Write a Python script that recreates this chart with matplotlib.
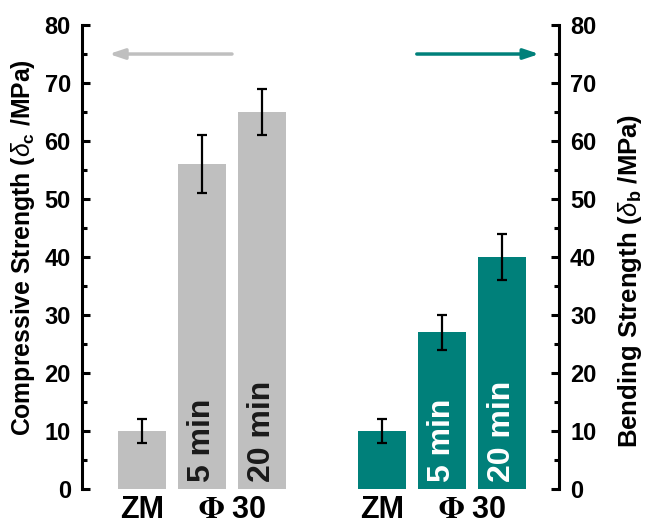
import matplotlib
matplotlib.use("Agg")
import matplotlib.pyplot as plt
from matplotlib.ticker import MultipleLocator

plt.rcParams['font.family'] = ['Liberation Sans', 'DejaVu Sans']
plt.rcParams['font.weight'] = 'bold'
plt.rcParams['mathtext.fontset'] = 'custom'
plt.rcParams['mathtext.rm'] = 'Liberation Sans'
plt.rcParams['mathtext.it'] = 'Liberation Sans:italic:normal'
plt.rcParams['mathtext.bf'] = 'Liberation Sans:bold'

# compressive strength (left axis)
comp_pos = [1, 2, 3]
comp_val = [10, 56, 65]
comp_err = [2, 5, 4]

# bending strength (right axis)
bend_pos = [5, 6, 7]
bend_val = [10, 27, 40]
bend_err = [2, 3, 4]

bar_text = ['', '5 min', '20 min']
group_labels = ['ZM', r'$\Phi$ 30']

grey = '#bfbfbf'
teal = '#00807a'

fig = plt.figure(figsize=(6.47, 5.29), dpi=100)
ax = fig.add_axes([0.1267, 0.0756, 0.7373, 0.8771])
ax2 = ax.twinx()

ax.bar(comp_pos, comp_val, width=0.8, color=grey, zorder=2)
ax.errorbar(comp_pos, comp_val, yerr=comp_err, fmt='none', ecolor='black',
            elinewidth=1.6, capsize=3.6, capthick=1.6, zorder=3)
ax2.bar(bend_pos, bend_val, width=0.8, color=teal, zorder=2)
ax2.errorbar(bend_pos, bend_val, yerr=bend_err, fmt='none', ecolor='black',
             elinewidth=1.6, capsize=3.6, capthick=1.6, zorder=3)

# labels written vertically inside the bars
for x, t in zip(comp_pos, bar_text):
    if t:
        ax.text(x, 1.2, t, rotation=90, ha='center', va='bottom',
                fontsize=23, color='#1a1a1a', fontweight='bold')
for x, t in zip(bend_pos, bar_text):
    if t:
        ax2.text(x, 1.2, t, rotation=90, ha='center', va='bottom',
                 fontsize=23, color='white', fontweight='bold')

for a in (ax, ax2):
    a.set_xlim(0, 7.95)
    a.set_ylim(0, 80)
    a.yaxis.set_major_locator(MultipleLocator(10))
    a.yaxis.set_minor_locator(MultipleLocator(5))
    for s in ('top', 'bottom'):
        a.spines[s].set_visible(False)
    a.set_xticks([])

ax.spines['right'].set_visible(False)
ax.spines['left'].set_linewidth(2.2)
ax2.spines['left'].set_visible(False)
ax2.spines['right'].set_linewidth(2.2)

ax.tick_params(axis='y', which='major', direction='in', length=6, width=2.2,
               labelsize=17, pad=8)
ax.tick_params(axis='y', which='minor', direction='in', length=3.5, width=2.2)
ax2.tick_params(axis='y', which='major', direction='in', length=6, width=2.2,
                labelsize=17, pad=8)
ax2.tick_params(axis='y', which='minor', direction='in', length=3.5, width=2.2)

ax.set_ylabel(r'Compressive Strength ($\delta_{\mathrm{c}}$ /MPa)', fontsize=17.8,
              fontweight='bold')
ax2.set_ylabel(r'Bending Strength ($\delta_{\mathrm{b}}$ /MPa)', fontsize=18.5,
               fontweight='bold', rotation=90)
ax.yaxis.set_label_coords(-0.124, 0.52)
ax2.yaxis.set_label_coords(1.149, 0.448)
ax.yaxis.label.set_va('center')
ax2.yaxis.label.set_va('center')

# group labels under the bars
trans = ax.get_xaxis_transform()
ax.text(comp_pos[0], -0.045, group_labels[0], transform=trans, ha='center',
        va='center', fontsize=22, fontweight='bold', math_fontfamily='stix')
ax.text((comp_pos[1] + comp_pos[2]) / 2, -0.045, group_labels[1], transform=trans,
        ha='center', va='center', fontsize=22, fontweight='bold', math_fontfamily='stix')
ax.text(bend_pos[0], -0.045, group_labels[0], transform=trans, ha='center',
        va='center', fontsize=22, fontweight='bold', math_fontfamily='stix')
ax.text((bend_pos[1] + bend_pos[2]) / 2, -0.045, group_labels[1], transform=trans,
        ha='center', va='center', fontsize=22, fontweight='bold', math_fontfamily='stix')

# arrows pointing to the matching axis
ax.annotate('', xy=(0.45, 75), xytext=(2.5, 75),
            arrowprops=dict(arrowstyle='-|>,head_length=0.9,head_width=0.3',
                            color=grey, lw=2.5, shrinkA=0, shrinkB=0))
ax.annotate('', xy=(7.62, 75), xytext=(5.58, 75),
            arrowprops=dict(arrowstyle='-|>,head_length=0.9,head_width=0.3',
                            color=teal, lw=2.5, shrinkA=0, shrinkB=0))

fig.savefig('out.png', dpi=100)
